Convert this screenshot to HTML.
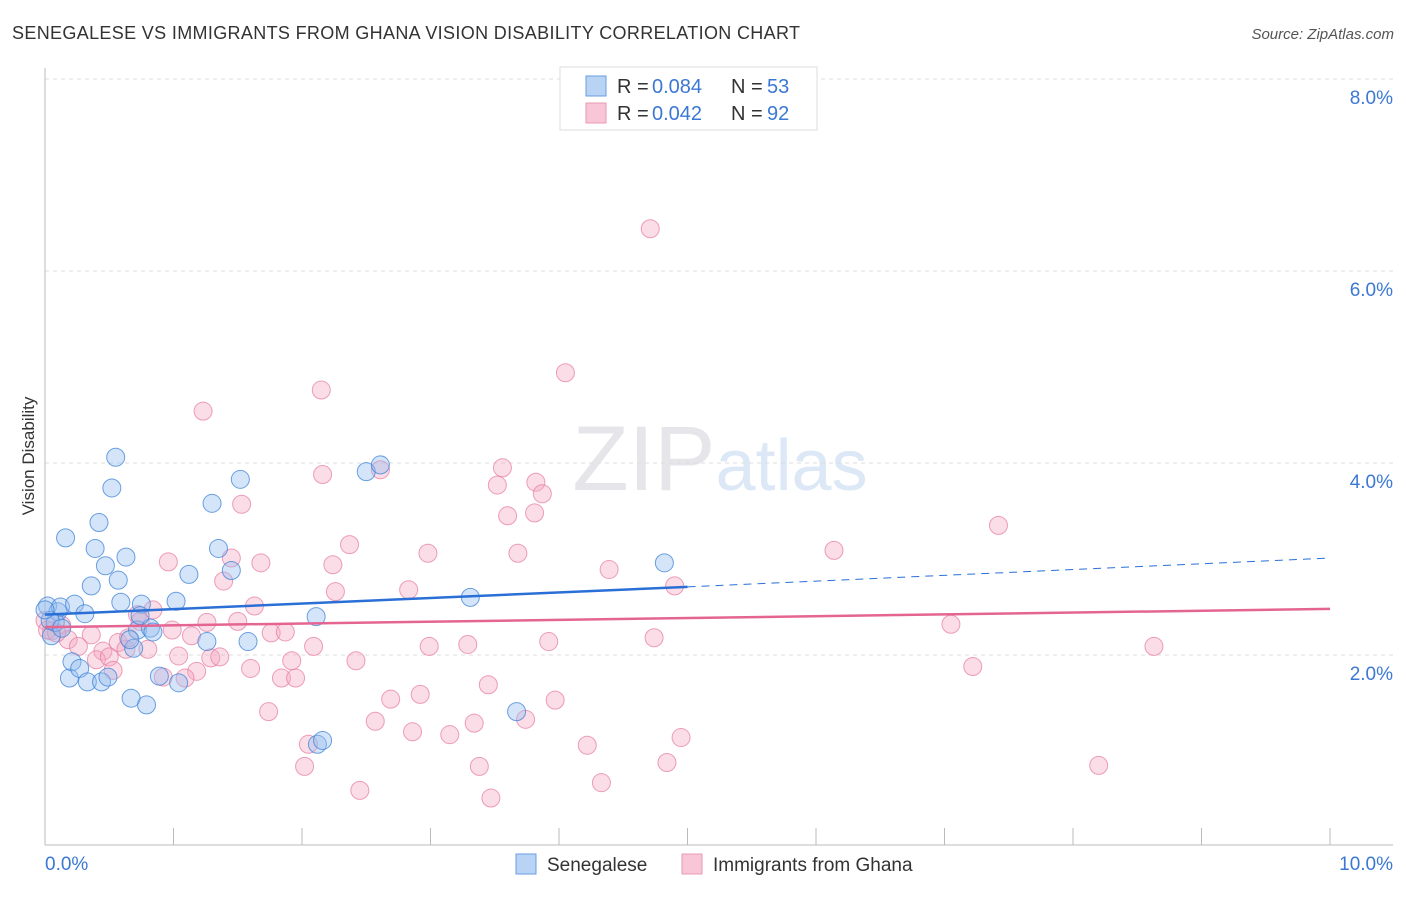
<!DOCTYPE html>
<html><head><meta charset="utf-8"><style>
body{margin:0;background:#fff;font-family:"Liberation Sans",sans-serif;}
svg text{font-family:"Liberation Sans",sans-serif;}
</style></head><body>
<svg id="c" width="1406" height="892" xmlns="http://www.w3.org/2000/svg">
<text x="12" y="39" font-size="18" fill="#333" textLength="788">SENEGALESE VS IMMIGRANTS FROM GHANA VISION DISABILITY CORRELATION CHART</text>
<text x="1394" y="39" font-size="15" fill="#555" text-anchor="end" font-style="italic">Source: ZipAtlas.com</text>
<text x="720" y="490" font-size="92" fill="#e6e6ea" text-anchor="middle" font-family="Liberation Serif">ZIP<tspan fill="#dce8f6" font-family="Liberation Sans" font-size="72">atlas</tspan></text>
<text x="34" y="456" font-size="17" fill="#333" text-anchor="middle" transform="rotate(-90 34 456)">Vision Disability</text>
<g id="grid"></g><g id="pts"></g><g id="trend"></g>
<g>
<rect x="560" y="67" width="257" height="63" fill="#fff" stroke="#ddd"/>
<rect x="586" y="76" width="20" height="20" fill="#b8d3f4" stroke="#6a9ddf"/>
<rect x="586" y="103" width="20" height="20" fill="#f8c6d6" stroke="#eb9ab5"/>
<text y="93" font-size="20" fill="#333"><tspan x="617">R = </tspan><tspan x="652" fill="#3b78d4">0.084</tspan><tspan x="731">N = </tspan><tspan x="767" fill="#3b78d4">53</tspan></text>
<text y="120" font-size="20" fill="#333"><tspan x="617">R = </tspan><tspan x="652" fill="#3b78d4">0.042</tspan><tspan x="731">N = </tspan><tspan x="767" fill="#3b78d4">92</tspan></text>
</g>
<g>
<rect x="516" y="854" width="20" height="20" fill="#b8d3f4" stroke="#6a9ddf"/>
<text x="547" y="871" font-size="19" fill="#333">Senegalese</text>
<rect x="682" y="854" width="20" height="20" fill="#f8c6d6" stroke="#eb9ab5"/>
<text x="713" y="871" font-size="19" fill="#333">Immigrants from Ghana</text>
</g>
</svg>
<script>
const yTicks=[2,4,6,8];
const yTickLabels=["2.0%","4.0%","6.0%","8.0%"];
const xTicks=[0,1,2,3,4,5,6,7,8,9,10];
const blueX=[0.02,0.05,0.10,0.08,0.12,0.16,0.19,0.21,0.23,0.27,0.31,0.33,0.36,0.39,0.42,0.44,0.47,0.49,0.52,0.55,0.57,0.59,0.63,0.67,0.69,0.72,0.75,0.79,0.82,0.84,1.02,1.04,1.12,1.26,1.30,1.35,1.45,1.52,1.58,2.11,2.12,2.16,2.50,2.61,3.31,3.67,4.82,0.04,0.0,0.66,0.74,0.89,0.13];
const blueY=[2.51,2.20,2.45,2.34,2.50,3.22,1.76,1.93,2.53,1.86,2.43,1.72,2.72,3.11,3.38,1.72,2.93,1.77,3.74,4.06,2.78,2.55,3.02,1.55,2.07,2.26,2.53,1.48,2.28,2.24,2.56,1.71,2.84,2.14,3.58,3.11,2.88,3.83,2.14,2.40,1.07,1.11,3.91,3.98,2.60,1.41,2.96,2.36,2.47,2.16,2.41,1.78,2.28];
const pinkX=[4.71,4.05,2.15,1.23,3.56,2.61,2.16,3.82,3.52,3.87,1.53,3.81,3.60,7.42,2.37,2.98,3.68,6.14,0.96,1.45,1.68,2.24,4.39,1.39,4.90,2.83,2.26,1.63,0.84,0.72,1.26,1.50,7.05,0.99,1.14,1.76,1.87,0.36,0.13,0.05,0.18,4.74,3.92,8.63,3.29,2.99,2.09,0.57,0.80,0.26,0.45,0.63,1.04,0.40,0.50,1.29,1.36,1.92,2.42,0.53,1.60,1.18,7.22,0.92,1.09,1.84,1.95,3.45,2.92,2.69,3.97,1.74,2.57,3.34,3.74,2.86,3.15,4.95,4.22,2.05,2.02,3.38,4.84,8.20,4.33,2.45,3.47,0.0,0.02,0.09,0.74,0.65];
const pinkY=[6.44,4.94,4.76,4.54,3.95,3.93,3.88,3.80,3.77,3.68,3.57,3.48,3.45,3.35,3.15,3.06,3.06,3.09,2.97,3.01,2.96,2.94,2.89,2.77,2.72,2.68,2.66,2.51,2.47,2.42,2.34,2.35,2.32,2.26,2.20,2.23,2.24,2.21,2.31,2.25,2.16,2.18,2.14,2.09,2.11,2.09,2.09,2.13,2.06,2.09,2.04,2.06,1.99,1.95,1.98,1.97,1.98,1.94,1.94,1.84,1.86,1.83,1.88,1.77,1.76,1.76,1.76,1.69,1.59,1.54,1.53,1.41,1.31,1.29,1.33,1.20,1.17,1.14,1.06,1.07,0.84,0.84,0.88,0.85,0.67,0.59,0.51,2.36,2.26,2.23,2.35,2.18];
const blueTrendX=[0,5,10];
const blueTrendY=[2.42,2.71,3.01];
const pinkTrendX=[0,10];
const pinkTrendY=[2.29,2.48];
const NS="http://www.w3.org/2000/svg";
const sx=v=>45+v*128.5, sy=v=>847-v*96;
function mk(tag,a,parent){const e=document.createElementNS(NS,tag);for(const k in a)e.setAttribute(k,a[k]);document.getElementById(parent).appendChild(e);return e;}
yTicks.forEach((t,i)=>{
 let l=mk('line',{x1:45,x2:1393,y1:sy(t),y2:sy(t),stroke:'#ddd','stroke-dasharray':'4,4'},'grid');
 
 
 let tx=mk('text',{x:1393,y:sy(t)+25,'font-size':19,fill:'#3b78d4','text-anchor':'end'},'grid');
 tx.textContent=yTickLabels[i];
 
 
});
let ax=mk('line',{x1:45,x2:1393,y1:845,y2:845,stroke:'#bbb'},'grid');


let ay=mk('line',{x1:45,x2:45,y1:68,y2:845,stroke:'#bbb'},'grid');


xTicks.forEach(t=>{
 let l=mk('line',{x1:sx(t),x2:sx(t),y1:828,y2:845,stroke:'#bbb'},'grid');
 
 
});
[[0,"0.0%",'start',45],[10,"10.0%",'end',1393]].forEach(d=>{
 let tx=mk('text',{x:d[3],y:870,'font-size':19,fill:'#3b78d4','text-anchor':d[2]},'grid');
 tx.textContent=d[1];
 
 
});
pinkX.forEach((x,i)=>{
 let c=mk('circle',{cx:sx(x),cy:sy(pinkY[i]),r:9,fill:'rgba(245,170,196,0.4)',stroke:'rgba(230,120,160,0.7)','stroke-width':1},'pts');
 
 
});
blueX.forEach((x,i)=>{
 let c=mk('circle',{cx:sx(x),cy:sy(blueY[i]),r:9,fill:'rgba(150,190,240,0.4)',stroke:'rgba(60,130,215,0.75)','stroke-width':1},'pts');
 
 
});
let b1=mk('line',{x1:sx(blueTrendX[0]),y1:sy(blueTrendY[0]),x2:sx(blueTrendX[1]),y2:sy(blueTrendY[1]),stroke:'#2a6fd6','stroke-width':2.5},'trend');


let b2=mk('line',{x1:sx(blueTrendX[1]),y1:sy(blueTrendY[1]),x2:sx(blueTrendX[2]),y2:sy(blueTrendY[2]),stroke:'#2a6fd6','stroke-width':1,'stroke-dasharray':'8,6'},'trend');


let p1=mk('line',{x1:sx(pinkTrendX[0]),y1:sy(pinkTrendY[0]),x2:sx(pinkTrendX[1]),y2:sy(pinkTrendY[1]),stroke:'#e46592','stroke-width':2.5},'trend');


</script>
</body></html>
